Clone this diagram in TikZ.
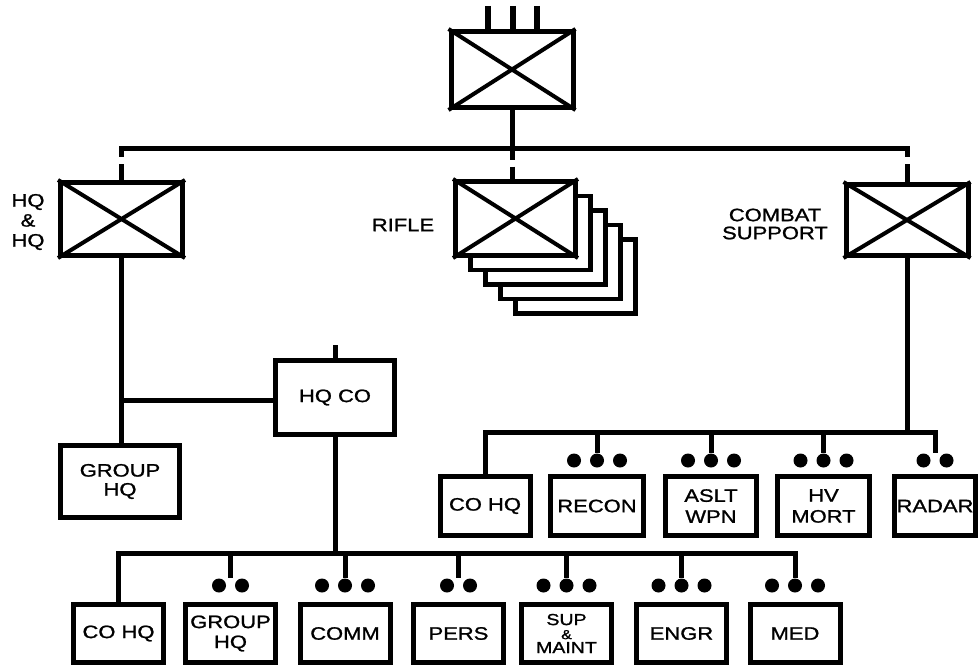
\documentclass[tikz,border=0pt]{standalone}
\usepackage{fontspec}
\usetikzlibrary{calc}
\newfontfamily\lbl[FakeStretch=1.22,FakeBold=1.2]{Liberation Sans}
\newcommand\lfont{\lbl\fontsize{18}{20}\selectfont}
\newcommand\amp{{\fontsize{13}{13}\selectfont\&}}
\begin{document}
\begin{tikzpicture}[x=1pt,y=-1pt,
  ln/.style={line width=5pt},
  bar/.style={line width=5pt, line cap=rect},
  bx/.style={draw, line width=5pt, inner sep=0pt, align=center, font=\lfont},
  xl/.style={line width=4pt},
  dotc/.style={circle, fill, inner sep=0pt, minimum size=14pt},
  gapped/.style={line width=5pt, dash pattern=on #1 off 7pt on 60pt},
  txt/.style={align=center, font=\lfont, inner sep=0pt}]
\useasboundingbox (0,0) rectangle (980,669);

% top unit
\node[bx, minimum width=122pt, minimum height=76pt] (top) at (512,69.5) {};
\draw[xl] (top.north west) -- (top.south east) (top.north east) -- (top.south west);
\coordinate (s1) at (488,6);
\coordinate (s2) at (513,6);
\coordinate (s3) at (537,6);
\foreach \s in {s1,s2,s3} \draw[line width=6pt] (\s) -- (\s |- top.north);

% second level
\node[bx, minimum width=122pt, minimum height=73pt] (hq) at (121.5,219) {};
\draw[xl] (hq.north west) -- (hq.south east) (hq.north east) -- (hq.south west);
\node[txt] (hqlbl) at (28,222) {HQ\\\&\\HQ};

\foreach \k in {4,3,2,1}
  \node[bx, fill=white, line width=4.5pt, minimum width=120pt, minimum height=74pt] (rifle\k) at (515.5+15*\k,218.5+14.5*\k) {};
\node[bx, fill=white, minimum width=120pt, minimum height=74pt] (rifle) at (515.5,218.5) {};
\draw[xl] (rifle.north west) -- (rifle.south east) (rifle.north east) -- (rifle.south west);
\node[txt] (riflelbl) at (403,225) {RIFLE};

\node[bx, minimum width=122pt, minimum height=71pt] (combat) at (907,220) {};
\draw[xl] (combat.north west) -- (combat.south east) (combat.north east) -- (combat.south west);
\node[txt, font=\lbl\fontsize{18}{18}\selectfont] (cslbl) at (775,224) {COMBAT\\SUPPORT};

\coordinate (mline) at (0,148);
\draw[bar] (hq.north |- mline) -- (combat.north |- mline);
\draw[gapped=9pt] (hq.north |- mline) -- (hq.north);
\draw[gapped=9pt] (combat.north |- mline) -- (combat.north);
\draw[gapped=49.5pt] (top.south) -- (top.south |- rifle.north);

% HQ & HQ branch
\node[bx, minimum width=119pt, minimum height=74pt] (hqco) at (335,397.5) {HQ CO};
\node[bx, minimum width=119pt, minimum height=72pt, font=\lbl\fontsize{18}{19}\selectfont] (grp) at (120,481.5) {GROUP\\HQ};
\coordinate (hqcotop) at (335,345);
\draw[ln] (hqcotop) -- (hqco.north);
\draw[ln] (hq.south) -- (hq.south |- grp.north);
\draw[ln] (hq.south |- 0,400) -- (hqco.west |- 0,400);

% combat support row
\coordinate (rline) at (0,432);
\foreach \n/\x/\w/\t in {rcohq/485/90/{CO HQ}, recon/597/93/RECON, aslt/711/91/{ASLT\\WPN}, hvmort/823.5/92/{HV\\MORT}, radar/935/81/RADAR}
  \node[bx, minimum width=\w pt, minimum height=59pt, font=\lbl\fontsize{18}{21}\selectfont] (\n) at (\x,506) {\t};
\draw[ln] (combat.south) -- (combat.south |- rline);
\draw[bar] (rcohq.north |- rline) -- (radar.north |- rline);
\draw[ln] (rcohq.north |- rline) -- (rcohq.north);
\foreach \n in {recon,aslt,hvmort}{
  \node[dotc] (\n-b) at ([yshift=13.5pt]\n.north) {};
  \node[dotc] (\n-a) at ([xshift=-23pt]\n-b) {};
  \node[dotc] (\n-c) at ([xshift=23pt]\n-b) {};
  \draw[ln] (\n.north |- rline) -- (\n-b.north);
}
\node[dotc] (radar-a) at ([xshift=-11.5pt,yshift=13.5pt]radar.north) {};
\node[dotc] (radar-b) at ([xshift=11.5pt,yshift=13.5pt]radar.north) {};
\draw[ln] (radar.north |- rline) -- ($(radar-a.north)!0.5!(radar-b.north)$);

% HQ CO row
\coordinate (bline) at (0,553);
\foreach \n/\x/\t in {bcohq/118.5/{CO HQ}, bgrp/230.5/{GROUP\\HQ}, comm/345/COMM, pers/458.5/PERS, engr/681.5/ENGR, med/795/MED}
  \node[bx, minimum width=90pt, minimum height=58pt, font=\lbl\fontsize{18}{20}\selectfont] (\n) at (\x,633.5) {\t};
\node[bx, minimum width=90pt, minimum height=58pt, font=\lbl\fontsize{16}{14}\selectfont] (sup) at (566.5,633.5) {SUP\\\amp\\MAINT};
\draw[ln] (hqco.south) -- (hqco.south |- bline);
\draw[bar] (bcohq.north |- bline) -- (med.north |- bline);
\draw[ln] (bcohq.north |- bline) -- (bcohq.north);
\foreach \n in {comm,sup,engr,med}{
  \node[dotc] (\n-b) at ([yshift=16.5pt]\n.north) {};
  \node[dotc] (\n-a) at ([xshift=-23pt]\n-b) {};
  \node[dotc] (\n-c) at ([xshift=23pt]\n-b) {};
  \draw[ln] (\n.north |- bline) -- (\n-b.north);
}
\foreach \n in {bgrp,pers}{
  \node[dotc] (\n-a) at ([xshift=-11.5pt,yshift=16.5pt]\n.north) {};
  \node[dotc] (\n-b) at ([xshift=11.5pt,yshift=16.5pt]\n.north) {};
  \draw[ln] (\n.north |- bline) -- ($(\n-a.north)!0.5!(\n-b.north)$);
}
\end{tikzpicture}
\end{document}
